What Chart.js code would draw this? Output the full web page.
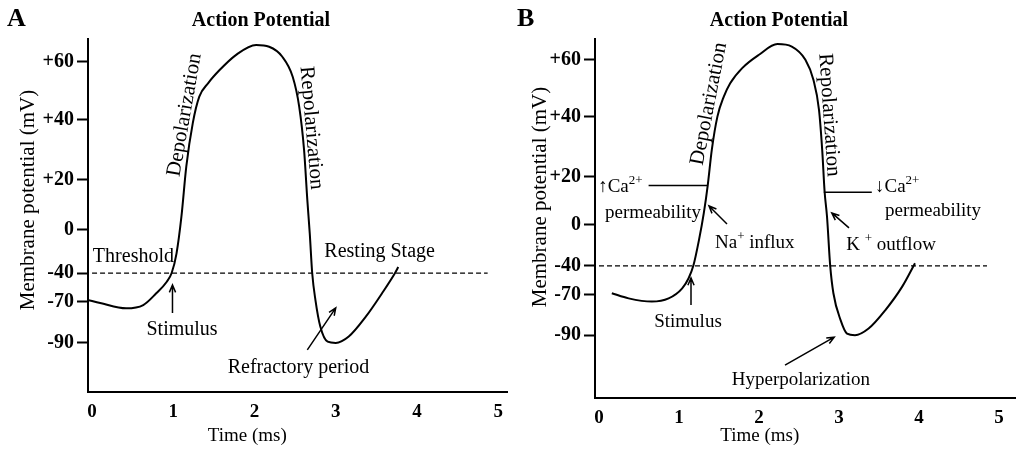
<!DOCTYPE html>
<html>
<head>
<meta charset="utf-8">
<script src="https://cdn.jsdelivr.net/npm/chart.js@4.4.0/dist/chart.umd.min.js"></script>
<style>
  html, body { margin: 0; padding: 0; background: #fff; }
  #wrap { display: flex; width: 1024px; height: 456px; }
  .panel { width: 512px; height: 456px; }
</style>
</head>
<body>
<div id="wrap">
  <div class="panel"><canvas id="chartA" width="512" height="456"></canvas></div>
  <div class="panel"><canvas id="chartB" width="512" height="456"></canvas></div>
</div>
<script>
// axis ticks
const timeTicks = [0, 1, 2, 3, 4, 5];
const mvTicks = [60, 40, 20, 0, -40, -70, -90];
const mvTickLabels = ['+60', '+40', '+20', '0', '-40', '-70', '-90'];

// panel A curve (time in ms, potential in mV)
const timeA = [-0.05, 0.10, 0.42, 0.63, 0.79, 0.92, 0.98, 1.04, 1.10, 1.16, 1.24, 1.32, 1.43, 1.57, 1.77,
  2.02, 2.18, 2.34, 2.47, 2.55, 2.61, 2.65, 2.68, 2.71, 2.75, 2.81, 2.90, 3.00, 3.16, 3.37, 3.57, 3.73, 3.77];
const mvA = [-68, -70.5, -73.1, -71.5, -61, -49, -40, -21.7, 5.3, 24.4, 38.9, 48, 52.7, 57.2, 62.4,
  65.9, 65.3, 61.9, 54.9, 44.6, 30, 12, -3.1, -40, -68, -82, -89.4, -90, -86.9, -77.2, -61, -40, -34.4];

// panel B curve
const timeB = [0.16, 0.37, 0.66, 0.87, 1.04, 1.12, 1.18, 1.25, 1.31, 1.36, 1.41, 1.48, 1.56, 1.64, 1.79,
  2.00, 2.23, 2.41, 2.58, 2.68, 2.75, 2.79, 2.82, 2.85, 2.89, 2.93, 3.02, 3.10, 3.20, 3.37, 3.58, 3.79, 3.95];
const mvB = [-68.2, -71.7, -73.3, -71.7, -63.1, -52.7, -39.7, -14.6, 4.9, 16.7, 29, 40.1, 47.1, 51.8, 57.1,
  61.8, 65.6, 64.7, 60, 53, 42.5, 29, 13.9, 3.5, -40, -68.2, -82.5, -89.2, -90, -86.7, -77.5, -61.4, -37.4];

// threshold and Ca2+ permeability levels
const thresholdMv = -40;
const thresholdTimeA = [0, 4.87];
const thresholdTimeB = [0, 4.85];
const caUpTime = [0.62, 1.36];
const caUpMv = 16.4;
const caDownTime = [2.81, 3.41];
const caDownMv = 13.6;

const SERIF = '"Liberation Serif", "Times New Roman", serif';

// the drawn mV axis is not linear: map values between tick stops
function mapStops(stops, v, a, b) {
  let i = 1;
  while (i < stops.length - 1 && v > stops[i][a]) i++;
  const p = stops[i - 1], q = stops[i];
  return p[b] + (v - p[a]) * (q[b] - p[b]) / (q[a] - p[a]);
}

class PiecewiseScale extends Chart.LinearScale {
  getPixelForValue(value) {
    if (value === null || value === undefined || isNaN(value)) return NaN;
    return this.getPixelForDecimal(mapStops(this.options.stops, value, 0, 1));
  }
  getValueForPixel(pixel) {
    return mapStops(this.options.stops, this.getDecimalForPixel(pixel), 1, 0);
  }
}
PiecewiseScale.id = 'piecewise';
PiecewiseScale.defaults = {};
Chart.register(PiecewiseScale);

function pts(xs, ys) {
  return xs.map((x, i) => ({ x: x, y: Array.isArray(ys) ? ys[i] : ys }));
}

function drawArrow(ctx, x1, y1, x2, y2) {
  const ang = Math.atan2(y2 - y1, x2 - x1);
  const head = 8;
  ctx.beginPath();
  ctx.moveTo(x1, y1);
  ctx.lineTo(x2, y2);
  ctx.moveTo(x2 - head * Math.cos(ang - 0.4), y2 - head * Math.sin(ang - 0.4));
  ctx.lineTo(x2, y2);
  ctx.lineTo(x2 - head * Math.cos(ang + 0.4), y2 - head * Math.sin(ang + 0.4));
  ctx.stroke();
}

// labels, titles and arrows drawn on top of the chart
function notesPlugin(notes) {
  return {
    id: 'notes',
    afterDraw(chart) {
      const { ctx } = chart;
      const xs = chart.scales.x, ys = chart.scales.y;
      ctx.save();
      ctx.fillStyle = '#000';
      ctx.strokeStyle = '#000';
      ctx.lineWidth = 1.5;
      notes.forEach(n => {
        if (n.arrow) {
          const [a, b] = n.arrow;
          drawArrow(ctx, xs.getPixelForValue(a[0]), ys.getPixelForValue(a[1]),
            xs.getPixelForValue(b[0]), ys.getPixelForValue(b[1]));
          return;
        }
        const px = n.px !== undefined ? n.px : xs.getPixelForValue(n.x);
        const py = n.py !== undefined ? n.py : ys.getPixelForValue(n.y);
        const size = n.size || 20;
        const weight = n.bold ? 'bold ' : '';
        const parts = n.parts || [[n.text]];
        const fontFor = p => weight + (p[1] ? Math.round(size * 0.7) : size) + 'px ' + SERIF;
        let total = 0;
        parts.forEach(p => { ctx.font = fontFor(p); total += ctx.measureText(p[0]).width; });
        ctx.save();
        ctx.translate(px, py);
        if (n.rotate) ctx.rotate(n.rotate * Math.PI / 180);
        ctx.textBaseline = 'middle';
        ctx.textAlign = 'left';
        let cx = n.align === 'center' ? -total / 2 : 0;
        parts.forEach(p => {
          ctx.font = fontFor(p);
          ctx.fillText(p[0], cx, p[1] ? -size * 0.35 : 0);
          cx += ctx.measureText(p[0]).width;
        });
        ctx.restore();
      });
      ctx.restore();
    }
  };
}

const notesA = [
  { text: 'A', px: 7, py: 19, size: 26, bold: true },
  { text: 'Action Potential', x: 2.08, py: 21, size: 20, bold: true, align: 'center' },
  { text: 'Membrane potential (mV)', px: 28, py: 200, size: 21, rotate: -90, align: 'center' },
  { text: 'Time (ms)', x: 1.91, py: 436, size: 19, align: 'center' },
  { text: 'Depolarization', x: 1.14, y: 41.7, size: 21, rotate: -80, align: 'center' },
  { text: 'Repolarization', x: 2.70, y: 37.3, size: 21, rotate: 85, align: 'center' },
  { text: 'Threshold', x: 0.01, y: -25.1 },
  { text: 'Resting Stage', x: 2.86, y: -20.5 },
  { text: 'Stimulus', x: 0.67, y: -83.7 },
  { text: 'Refractory period', x: 1.67, y: -102.2 },
  { arrow: [[0.99, -75.4], [0.99, -52.4]] },
  { arrow: [[2.65, -93.4], [3.0, -72.9]] }
];

const notesB = [
  { text: 'B', px: 5, py: 19, size: 26, bold: true },
  { text: 'Action Potential', x: 2.25, py: 21, size: 20, bold: true, align: 'center' },
  { text: 'Membrane potential (mV)', px: 28.5, py: 197, size: 21, rotate: -90, align: 'center' },
  { text: 'Time (ms)', x: 2.01, py: 436, size: 19, align: 'center' },
  { text: 'Depolarization', x: 1.375, y: 44.6, size: 21, rotate: -79, align: 'center' },
  { text: 'Repolarization', x: 2.875, y: 40.7, size: 21, rotate: 86, align: 'center' },
  { parts: [['\u2191Ca'], ['2+', 1]], x: -0.01, y: 15.8, size: 19 },
  { text: 'permeability', x: 0.075, y: 5, size: 19 },
  { arrow: [[1.6, 0.4], [1.375, 7.9]] },
  { parts: [['Na'], ['+', 1], [' influx']], x: 1.45, y: -17.6, size: 19 },
  { parts: [['\u2193Ca'], ['2+', 1]], x: 3.45, y: 15.8, size: 19 },
  { text: 'permeability', x: 3.575, y: 5.8, size: 19 },
  { arrow: [[3.125, -2.9], [2.91, 5]] },
  { parts: [['K '], ['+', 1], [' outflow']], x: 3.09, y: -19.5, size: 19 },
  { arrow: [[1.15, -75], [1.15, -52.4]] },
  { text: 'Stimulus', x: 0.69, y: -83.5, size: 19 },
  { arrow: [[2.325, -105], [2.94, -91]] },
  { text: 'Hyperpolarization', x: 1.66, y: -112.5, size: 19 }
];

function lineSet(data, extra) {
  return Object.assign({
    data: data,
    borderColor: '#000',
    borderWidth: 2,
    pointRadius: 0,
    fill: false
  }, extra || {});
}

function makeChart(id, sets, notes, cfg) {
  return new Chart(document.getElementById(id), {
    type: 'line',
    data: { datasets: sets },
    options: {
      responsive: false,
      animation: false,
      layout: { padding: { top: 39, right: cfg.right, left: 0, bottom: 0 } },
      plugins: { legend: { display: false }, tooltip: { enabled: false } },
      scales: {
        x: {
          type: 'linear',
          min: -0.05,
          max: cfg.xMax,
          afterBuildTicks: s => { s.ticks = timeTicks.map(v => ({ value: v })); },
          afterFit: s => { s.height = cfg.xHeight; },
          grid: { display: false, drawTicks: false },
          border: { display: true, color: '#000', width: 2 },
          ticks: {
            autoSkip: false, maxRotation: 0, padding: 9, color: '#000',
            font: { family: SERIF, size: 19, weight: 'bold' }
          }
        },
        y: {
          type: 'piecewise',
          min: cfg.stops[0][0],
          max: cfg.stops[cfg.stops.length - 1][0],
          stops: cfg.stops,
          afterBuildTicks: s => { s.ticks = mvTicks.map(v => ({ value: v })); },
          afterFit: s => { s.width = cfg.yWidth; },
          grid: {
            display: true, drawOnChartArea: false, drawTicks: true,
            tickLength: 11, tickWidth: 2, tickColor: '#000', color: '#000'
          },
          border: { display: true, color: '#000', width: 2 },
          ticks: {
            autoSkip: false, padding: 3, color: '#000',
            font: { family: SERIF, size: 20, weight: 'bold' },
            callback: v => mvTickLabels[mvTicks.indexOf(v)]
          }
        }
      }
    },
    plugins: [notesPlugin(notes)]
  });
}

// Panel A
makeChart('chartA', [
  lineSet(pts(thresholdTimeA, thresholdMv), { borderWidth: 1.2, borderDash: [5, 3] }),
  lineSet(pts(timeA, mvA), { cubicInterpolationMode: 'monotone' })
], notesA, {
  right: 2, xMax: 5.12, xHeight: 64, yWidth: 88,
  stops: [[-114, 0], [-90, 0.139], [-70, 0.255], [-40, 0.337], [0, 0.459], [20, 0.601], [40, 0.771], [60, 0.935], [68, 1]]
});

// Panel B
makeChart('chartB', [
  lineSet(pts(thresholdTimeB, thresholdMv), { borderWidth: 1.2, borderDash: [5, 3] }),
  lineSet(pts(caUpTime, caUpMv), { borderWidth: 1.5 }),
  lineSet(pts(caDownTime, caDownMv), { borderWidth: 1.5 }),
  lineSet(pts(timeB, mvB), { cubicInterpolationMode: 'monotone' })
], notesB, {
  right: 9, xMax: 5.2, xHeight: 58, yWidth: 83,
  stops: [[-121.5, 0], [-90, 0.175], [-70, 0.287], [-40, 0.368], [0, 0.482], [20, 0.616], [40, 0.783], [60, 0.942], [67.4, 1]]
});
</script>
</body>
</html>
